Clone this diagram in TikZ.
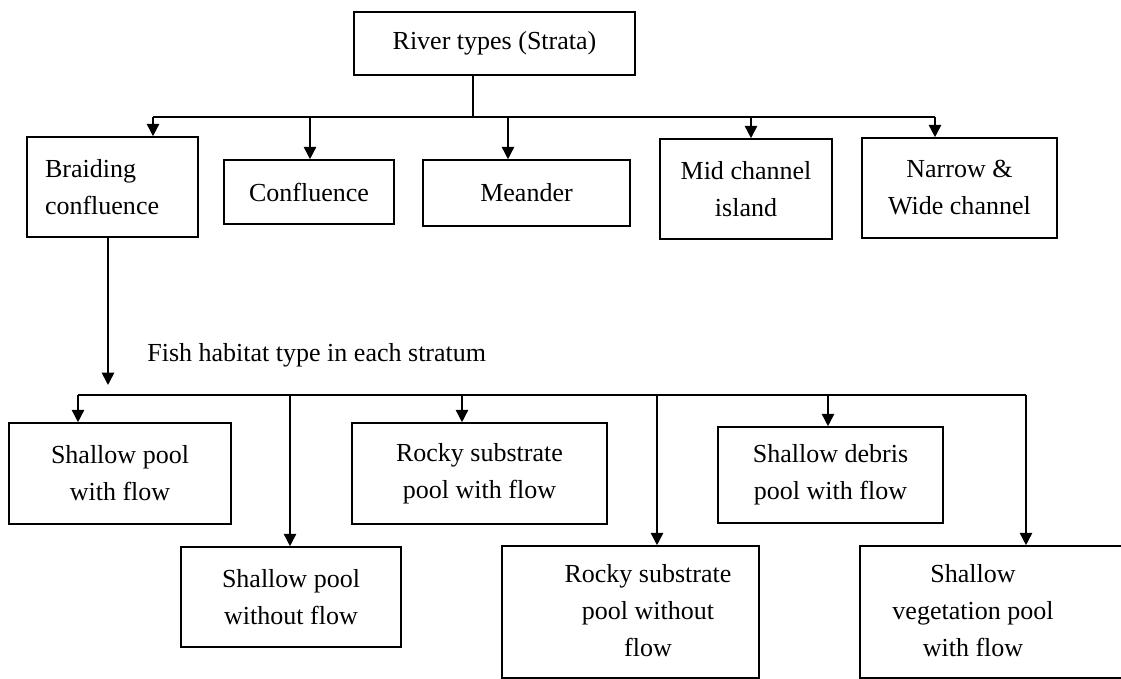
\documentclass[tikz,border=0pt]{standalone}
\usepackage{fontspec}
\setmainfont{Liberation Serif}
\usepackage{tikz}
\usetikzlibrary{positioning,arrows.meta,calc}

\begin{document}
\begin{tikzpicture}[
    box/.style={draw, line width=0.9pt, align=center, inner sep=2pt,
                font=\fontsize{14.8}{21}\selectfont},
    link/.style={line width=0.9pt},
    arr/.style={line width=0.9pt, -{Triangle[length=7pt,width=7pt]}}]
    \useasboundingbox (0,0) rectangle (22.42,-13.58);

    % river types
    \node[box, minimum width=5.62cm, minimum height=1.26cm] (top) at (9.89,-0.87) {River types (Strata)};

    \node[box, minimum height=2cm, text width=2.7cm, inner xsep=0.36cm, align=left] (braid) at (2.25,-3.74) {Braiding\\confluence};
    \node[box, minimum width=3.4cm, minimum height=1.28cm] (conf) at (6.18,-3.84) {Confluence};
    \node[box, minimum width=4.14cm, minimum height=1.32cm] (mean) at (10.53,-3.86) {Meander};
    \node[box, minimum width=3.44cm, minimum height=2cm] (mid) at (14.92,-3.78) {Mid channel\\island};
    \node[box, minimum width=3.9cm, minimum height=2cm] (narrow) at (19.19,-3.76) {Narrow \&\\Wide channel};

    \coordinate (t0) at (9.46,-2.34);
    \coordinate (t1) at (3.06,-2.34);
    \coordinate (t2) at (6.2,-2.34);
    \coordinate (t3) at (10.16,-2.34);
    \coordinate (t4) at (15.02,-2.34);
    \coordinate (t5) at (18.7,-2.34);

    \draw[link] (top.south -| t0) -- (t0);
    \draw[link] (t1) -- (t5);
    \foreach \c/\n in {t1/braid, t2/conf, t3/mean, t4/mid, t5/narrow}
        \draw[arr] (\c) -- (\c |- \n.north);

    % habitat types
    \node[font=\fontsize{14.8}{21}\selectfont, anchor=west, inner sep=0pt] (habitat) at (2.94,-7.1) {Fish habitat type in each stratum};

    \coordinate (c0) at (2.16,-7.7);
    \draw[arr] (braid.south -| c0) -- (c0);

    \node[box, minimum width=4.44cm, minimum height=2.02cm] (sp1) at (2.4,-9.47) {Shallow pool\\with flow};
    \node[box, minimum width=4.4cm, minimum height=2cm] (sp2) at (5.82,-11.94) {Shallow pool\\without flow};
    \node[box, minimum width=5.1cm, minimum height=2.02cm] (rk1) at (9.59,-9.47) {Rocky substrate\\pool with flow};
    \node[box, minimum width=5.14cm, minimum height=2.64cm, inner sep=0pt] (rk2) at (12.61,-12.24)
        {\begin{tabular}{@{\hspace{0.7cm}}c@{}}Rocky substrate\\pool without\\flow\end{tabular}};
    \node[box, minimum width=4.5cm, minimum height=1.92cm] (db) at (16.61,-9.5) {Shallow debris\\pool with flow};
    \node[box, minimum width=5.6cm, minimum height=2.64cm, inner sep=0pt] (veg) at (20.0,-12.24)
        {\begin{tabular}{@{}c@{\hspace{1.08cm}}}Shallow\\vegetation pool\\with flow\end{tabular}};

    \coordinate (s1) at (1.56,-7.9);
    \coordinate (s2) at (5.8,-7.9);
    \coordinate (s3) at (9.24,-7.9);
    \coordinate (s4) at (13.14,-7.9);
    \coordinate (s5) at (16.56,-7.9);
    \coordinate (s6) at (20.52,-7.9);

    \draw[link] (s1) -- (s6);
    \foreach \c/\n in {s1/sp1, s2/sp2, s3/rk1, s4/rk2, s5/db, s6/veg}
        \draw[arr] (\c) -- (\c |- \n.north);
\end{tikzpicture}
\end{document}
